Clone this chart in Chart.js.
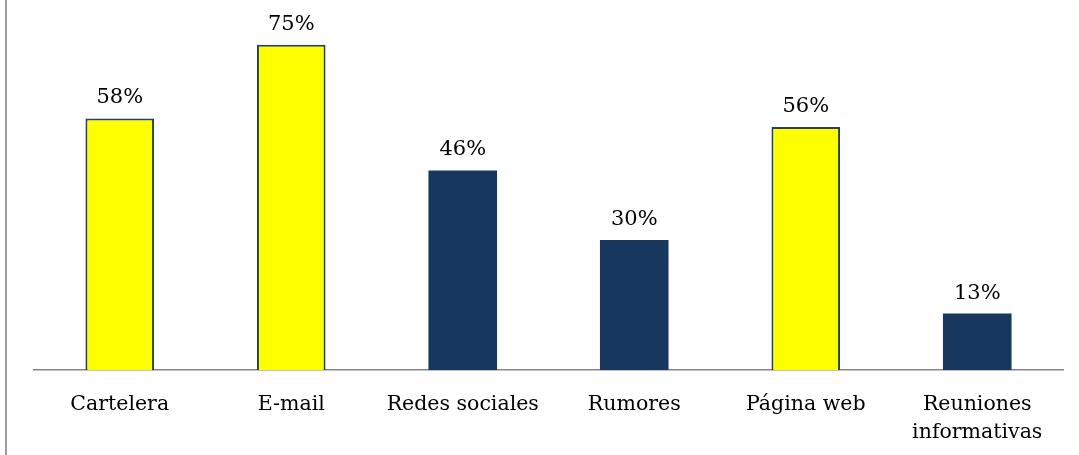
<!DOCTYPE html>
<html>
<head>
<meta charset="utf-8">
<script src="https://cdn.jsdelivr.net/npm/chart.js@4/dist/chart.umd.min.js"></script>
<style>
  html, body { margin: 0; padding: 0; background: #ffffff; }
  #wrap { width: 1079px; height: 455px; position: relative; }
</style>
</head>
<body>
<div id="wrap"><canvas id="chart" width="1079" height="455"></canvas></div>
<script>
// Canales de comunicación interna (% de menciones)
const categories = ['Cartelera', 'E-mail', 'Redes sociales', 'Rumores', 'Página web', ['Reuniones', 'informativas']];
const values = [58, 75, 46, 30, 56, 13];
const formal = [true, true, false, false, true, false];

const YELLOW = '#FFFF00';
const NAVY = '#17375E';
const FONT = '"DejaVu Serif", "Liberation Serif", serif';

// Porcentaje encima de cada barra
const valueLabels = {
  id: 'valueLabels',
  afterDatasetsDraw(chart) {
    const ctx = chart.ctx;
    const meta = chart.getDatasetMeta(0);
    ctx.save();
    ctx.font = '21px ' + FONT;
    ctx.fillStyle = '#000000';
    ctx.textAlign = 'center';
    ctx.textBaseline = 'alphabetic';
    meta.data.forEach((bar, i) => {
      ctx.fillText(values[i] + '%', bar.x, bar.y - 15);
    });
    ctx.restore();
  }
};

// Línea vertical del marco a la izquierda
const frameLine = {
  id: 'frameLine',
  beforeDraw(chart) {
    const ctx = chart.ctx;
    ctx.save();
    ctx.fillStyle = '#9A9A9A';
    ctx.fillRect(5, 0, 2, chart.height);
    ctx.restore();
  }
};

new Chart(document.getElementById('chart'), {
  type: 'bar',
  data: {
    labels: categories,
    datasets: [{
      data: values,
      backgroundColor: formal.map(f => f ? YELLOW : NAVY),
      borderColor: '#243F60',
      borderWidth: formal.map(f => f ? 2 : 0),
      barPercentage: 0.4,
      categoryPercentage: 1.0
    }]
  },
  options: {
    responsive: false,
    animation: false,
    layout: { padding: { left: 34, right: 16, top: 23, bottom: 0 } },
    plugins: {
      legend: { display: false },
      tooltip: { enabled: false }
    },
    scales: {
      x: {
        grid: { display: false, drawTicks: false },
        border: { display: true, color: '#868686', width: 1.5 },
        ticks: {
          color: '#000000',
          font: { family: FONT, size: 20.5, lineHeight: 1.4 },
          padding: 20,
          maxRotation: 0,
          autoSkip: false
        },
        afterFit(scale) { scale.height = 85; }
      },
      y: {
        display: false,
        min: 0,
        max: 80
      }
    }
  },
  plugins: [valueLabels, frameLine]
});
</script>
</body>
</html>
